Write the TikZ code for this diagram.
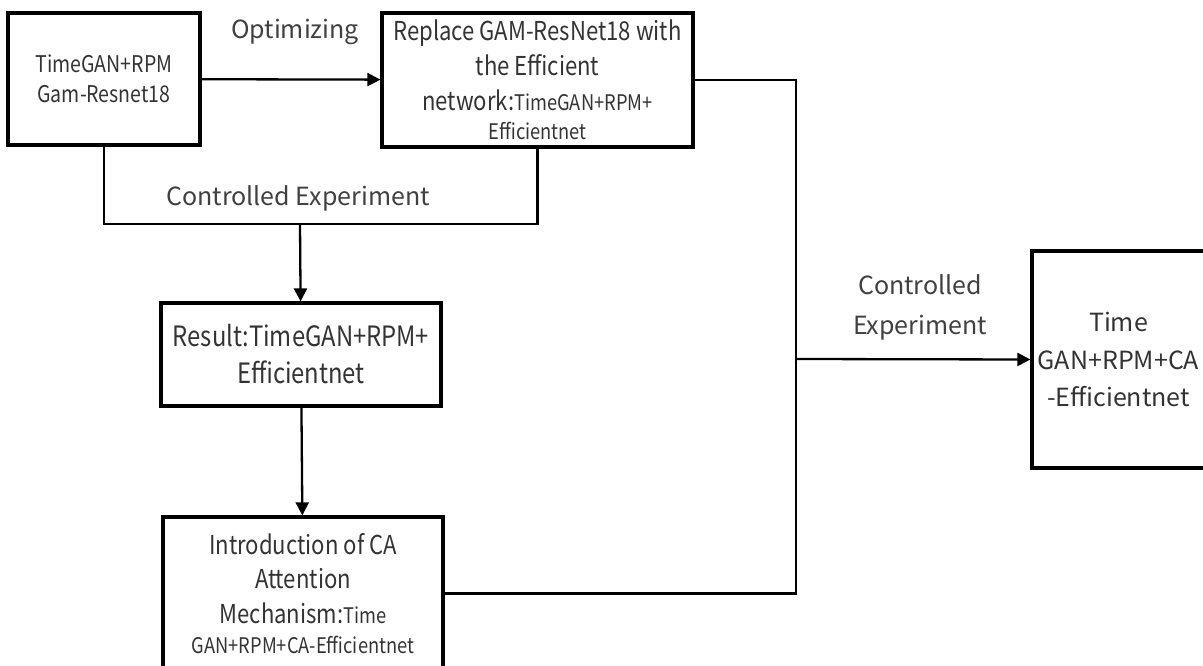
\documentclass[tikz,border=0pt]{standalone}
\usepackage{fontspec}
\setmainfont{Noto Sans CJK SC}
\newfontfamily\narrowfont[FakeStretch=0.85]{Noto Sans CJK SC}
\usetikzlibrary{positioning, arrows.meta}

\newcommand{\fsA}{\narrowfont\fontsize{23}{30}\selectfont}
\newcommand{\fsB}{\narrowfont\fontsize{26}{35}\selectfont}
\newcommand{\fsD}{\narrowfont\fontsize{26}{34.5}\selectfont}
\newcommand{\fsSmall}{\narrowfont\fontsize{21.5}{30}\selectfont}
\newcommand{\fsC}{\narrowfont\fontsize{28}{37}\selectfont}
\newcommand{\fsE}{\fontsize{25}{37.5}\selectfont}
\newcommand{\fsLabel}{\fontsize{25}{40}\selectfont}

\begin{document}
\begin{tikzpicture}[x=1pt, y=-1pt, thick,
  box/.style={draw, line width=3.2pt, align=center, inner sep=0pt, text=black!80},
  link/.style={line width=2.3pt},
  tip/.style={-{Triangle[length=13pt, width=13pt]}},
  lbl/.style={align=center, inner sep=0pt, text=black!75}]
  \useasboundingbox (0,0) rectangle (1203,666);
  % boxes
  \node[box, font=\fsA, minimum width=192pt, minimum height=132pt] (gam) at (104,79)
    {TimeGAN+RPM\\Gam-Resnet18};
  \node[box, font=\fsB, minimum width=311pt, minimum height=134pt] (eff) at (537.5,80)
    {Replace GAM-ResNet18 with\\the Efficient\\
     network:{\fsSmall TimeGAN+RPM+}\\[-6pt]{\fsSmall Efficientnet}};
  \node[box, font=\fsC, minimum width=280pt, minimum height=103pt] (res) at (301,354.5)
    {Result:TimeGAN+RPM+\\Efficientnet};
  \node[box, font=\fsD, minimum width=280pt, minimum height=153pt] (ca) at (303,593.5)
    {Introduction of CA\\Attention\\
     Mechanism:{\fsSmall Time}\\[-4.5pt]{\fsSmall GAN+RPM+CA-Efficientnet}};
  \node[box, font=\fsE, minimum width=173pt, minimum height=217pt] (final) at (1118.5,359.5)
    {Time\\GAN+RPM+CA\\-Efficientnet};
  % junctions
  \coordinate (split) at (300,224);
  \coordinate (bend) at (796,359);
  % connectors
  \draw[link, tip] (gam) -- (eff);
  \draw[link] (gam.south) |- (split) -| (eff.south);
  \draw[link, tip] (split) -- (res);
  \draw[link, tip] (res) -- (ca);
  \draw[link] (eff.east) -| (bend);
  \draw[link] (ca.east) -| (bend);
  \draw[link, tip] (bend) -- (final.west);
  % labels
  \node[lbl, font=\fsLabel] (optlbl) at (295,32) {Optimizing};
  \node[lbl, font=\fsLabel] (ctrl) at (298,198) {Controlled Experiment};
  \node[lbl, font=\fsLabel] (ctrlr) at (920,307) {Controlled\\Experiment};
\end{tikzpicture}
\end{document}
